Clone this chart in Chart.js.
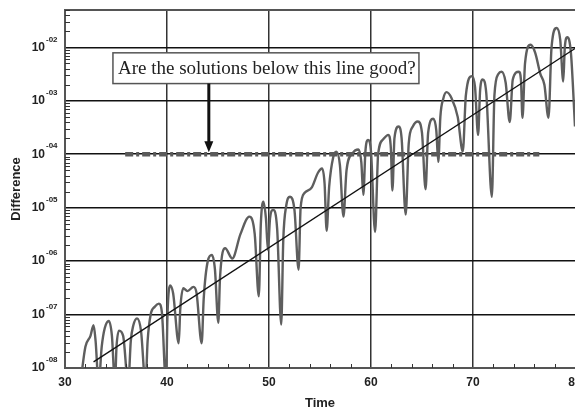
<!DOCTYPE html>
<html>
<head>
<meta charset="utf-8">
<script src="https://cdn.jsdelivr.net/npm/chart.js@4.4.1/dist/chart.umd.min.js"></script>
<style>
  html, body { margin: 0; padding: 0; background: #fff; }
</style>
</head>
<body>
<canvas id="chart" width="575" height="414"></canvas>
<script>
// difference curve
const times = [31.5, 32.0, 32.5, 32.8, 33.0, 33.3, 33.6, 33.9, 34.3, 34.6, 34.9, 35.05, 35.3, 35.7, 36.2, 36.45, 36.7, 37.06, 37.45, 37.9,
  38.1, 38.4, 38.8, 39.2, 39.5, 39.9, 40.05, 40.3, 40.6, 41.15, 41.3, 41.6, 42.0, 42.6, 42.9, 43.4, 43.6, 44.0, 44.4, 44.7,
  45.03, 45.2, 45.7, 46.4, 47.2, 48.07, 48.6, 49.0, 49.2, 49.45, 49.7, 49.9, 50.1, 50.4, 50.8, 51.2, 51.4, 51.7, 52.06, 52.5,
  52.9, 53.1, 53.5, 54.2, 54.8, 55.2, 55.45, 55.65, 55.9, 56.3, 56.6, 56.95, 57.3, 57.6, 58.2, 58.76, 59.05, 59.25, 59.45, 59.7,
  60.0, 60.4, 60.7, 61.2, 61.7, 61.95, 62.1, 62.3, 62.7, 63.0, 63.4, 63.7, 64.1, 64.6, 65.0, 65.35, 65.6, 66.1, 66.4, 66.6,
  66.8, 67.1, 67.4, 67.9, 68.5, 69.0, 69.3, 69.9, 70.2, 70.5, 70.7, 70.95, 71.3, 71.85, 72.1, 72.5, 72.8, 73.2, 73.6, 73.9,
  74.5, 74.7, 74.85, 75.1, 75.65, 76.1, 76.6, 77.0, 77.4, 77.7, 78.2, 78.55, 78.85, 79.0, 79.25, 79.6, 80.0];
const diff = [5e-9, 2.5e-8, 4e-8, 6.3e-8, 3.2e-8, 5e-9, 2.5e-8, 5.6e-8, 7.6e-8, 4e-8, 5e-9, 2.5e-8, 5e-8, 4e-8, 5e-9, 3.2e-8, 6.3e-8, 8.5e-8, 5e-8, 5e-9,
  3.2e-8, 1e-7, 1.4e-7, 1.6e-7, 1.1e-7, 5e-9, 1e-7, 3.5e-7, 2.5e-7, 2.9e-8, 1.26e-7, 3.1e-7, 2.75e-7, 3.3e-7, 2.5e-7, 2.9e-8, 2e-7, 1e-6, 1.3e-6, 7e-7,
  7e-8, 5e-7, 1.74e-6, 1.12e-6, 3.2e-6, 6.8e-6, 3.2e-6, 2.2e-7, 5e-6, 1.3e-5, 6.3e-6, 1.6e-6, 6.3e-6, 9.1e-6, 4e-6, 6.5e-8, 2.5e-6, 1.12e-5, 1.6e-5, 8.9e-6,
  6.9e-7, 1e-5, 1.9e-5, 2.4e-5, 4.5e-5, 5.4e-5, 2.8e-5, 3.7e-6, 2.5e-5, 8.9e-5, 1.12e-4, 6.3e-5, 6.8e-6, 5e-5, 1.05e-4, 1.23e-4, 7.1e-5, 1.74e-5, 1.12e-4, 1.86e-4,
  1.12e-4, 3.5e-6, 1e-4, 1.9e-4, 2.3e-4, 1.26e-4, 2.1e-5, 2e-4, 3.3e-4, 2e-4, 7.4e-6, 1.6e-4, 3.3e-4, 4.1e-4, 2.5e-4, 2.2e-5, 2.5e-4, 4.6e-4, 2.8e-4, 7.2e-5,
  5e-4, 1.12e-3, 1.45e-3, 1.12e-3, 5e-4, 1.12e-4, 1.26e-3, 2.9e-3, 1.8e-3, 2.3e-4, 1.6e-3, 2.5e-3, 1.4e-3, 1.6e-5, 1.26e-3, 3.2e-3, 3.5e-3, 2.2e-3, 4e-4, 2.5e-3,
  3.5e-3, 2.5e-3, 4.8e-4, 5e-3, 1.12e-2, 7.9e-3, 3.2e-3, 2e-3, 4.8e-4, 1e-2, 2.3e-2, 1.4e-2, 2.3e-3, 1e-2, 1.55e-2, 7.9e-3, 3.3e-4];

// straight fit line and the threshold line
const fitTimes = [32.8, 80];
const fitValues = [1.3e-8, 9.5e-3];
const limitTimes = [35.9, 76.5];
const limitValues = [1e-4, 1e-4];

// axes
const xTicks = [30, 40, 50, 60, 70, 80];
const xMinor = [32, 34, 36, 38, 42, 44, 46, 48, 52, 54, 56, 58, 62, 64, 66, 68, 72, 74, 76, 78];
const yTicks = [1e-8, 1e-7, 1e-6, 1e-5, 1e-4, 1e-3, 1e-2];
const yTickExp = ['-08', '-07', '-06', '-05', '-04', '-03', '-02'];

const note = 'Are the solutions below this line good?';
const noteBox = { t0: 34.7, t1: 64.7, v0: 7.9e-3, v1: 2.1e-3 };
const arrowAt = { t: 44.1, v: 1e-4 };

const pts = (xs, ys) => xs.map((t, i) => ({ x: t, y: ys[i] }));

const extras = {
  id: 'extras',
  afterDatasetsDraw(chart) {
    const { ctx, chartArea: a, scales: { x, y } } = chart;
    ctx.save();
    // top frame
    ctx.strokeStyle = '#555';
    ctx.lineWidth = 2;
    ctx.beginPath();
    ctx.moveTo(a.left, a.top);
    ctx.lineTo(a.right, a.top);
    ctx.stroke();

    // minor ticks
    ctx.strokeStyle = '#333';
    ctx.lineWidth = 1;
    yTicks.forEach(d => {
      for (let m = 2; m <= 9; m++) {
        const v = d * m;
        if (v > y.max) break;
        const py = Math.round(y.getPixelForValue(v)) + 0.5;
        ctx.beginPath();
        ctx.moveTo(a.left, py);
        ctx.lineTo(a.left + 5, py);
        ctx.stroke();
      }
    });
    xMinor.forEach(t => {
      const px = Math.round(x.getPixelForValue(t)) + 0.5;
      ctx.beginPath();
      ctx.moveTo(px, a.bottom);
      ctx.lineTo(px, a.bottom - 4);
      ctx.stroke();
    });

    // note box
    const bx0 = x.getPixelForValue(noteBox.t0), bx1 = x.getPixelForValue(noteBox.t1);
    const by0 = y.getPixelForValue(noteBox.v0), by1 = y.getPixelForValue(noteBox.v1);
    ctx.fillStyle = '#fff';
    ctx.fillRect(bx0, by0, bx1 - bx0, by1 - by0);
    ctx.strokeStyle = '#555';
    ctx.lineWidth = 1.5;
    ctx.strokeRect(bx0, by0, bx1 - bx0, by1 - by0);
    ctx.fillStyle = '#222';
    ctx.font = '19px "Liberation Serif"';
    ctx.textBaseline = 'middle';
    ctx.textAlign = 'left';
    ctx.fillText(note, bx0 + 5, (by0 + by1) / 2 + 1);

    // arrow
    const ax = x.getPixelForValue(arrowAt.t);
    const ay = y.getPixelForValue(arrowAt.v) - 2;
    ctx.strokeStyle = '#111';
    ctx.lineWidth = 3;
    ctx.beginPath();
    ctx.moveTo(ax, by1);
    ctx.lineTo(ax, ay - 9);
    ctx.stroke();
    ctx.fillStyle = '#111';
    ctx.beginPath();
    ctx.moveTo(ax - 4.5, ay - 11);
    ctx.lineTo(ax + 4.5, ay - 11);
    ctx.lineTo(ax, ay);
    ctx.closePath();
    ctx.fill();
    ctx.restore();
  },
  afterDraw(chart) {
    const { ctx, scales: { y } } = chart;
    ctx.save();
    ctx.fillStyle = '#222';
    ctx.textBaseline = 'middle';
    yTicks.forEach((v, i) => {
      const py = y.getPixelForValue(v);
      ctx.font = 'bold 12px "Liberation Sans"';
      ctx.textAlign = 'right';
      ctx.fillText('10', 45, py);
      ctx.font = 'bold 8px "Liberation Sans"';
      ctx.textAlign = 'left';
      ctx.fillText(yTickExp[i], 46, py - 8);
    });
    ctx.restore();
  }
};

new Chart(document.getElementById('chart'), {
  type: 'line',
  data: {
    datasets: [{
      data: pts(fitTimes, fitValues),
      borderColor: '#111',
      borderWidth: 1.3,
      pointRadius: 0,
      tension: 0
    }, {
      data: pts(limitTimes, limitValues),
      borderColor: '#5a5a5a',
      borderWidth: 4.5,
      borderDash: [8, 3, 3, 3],
      pointRadius: 0,
      tension: 0
    }, {
      data: pts(times, diff),
      borderColor: '#5e5e5e',
      borderWidth: 2.4,
      pointRadius: 0,
      cubicInterpolationMode: 'monotone'
    }]
  },
  options: {
    responsive: false,
    animation: false,
    layout: { padding: { top: 10, right: 0, left: 0, bottom: 0 } },
    plugins: { legend: { display: false }, tooltip: { enabled: false } },
    scales: {
      x: {
        type: 'linear',
        min: 30,
        max: 80,
        afterBuildTicks: s => { s.ticks = xTicks.map(v => ({ value: v })); },
        afterFit: s => { s.height = 46; s.paddingLeft = 0; s.paddingRight = 0; },
        grid: {
          drawTicks: false,
          color: c => (c.tick && (c.tick.value === 30 || c.tick.value === 80)) ? 'rgba(0,0,0,0)' : '#333',
          lineWidth: 1.5
        },
        border: { color: '#555', width: 2 },
        ticks: {
          padding: 7,
          maxRotation: 0,
          color: '#222',
          font: { family: 'Liberation Sans', size: 12, weight: 'bold' }
        },
        title: {
          display: true,
          text: 'Time',
          color: '#222',
          padding: { top: 3, bottom: 3 },
          font: { family: 'Liberation Sans', size: 13, weight: 'bold' }
        }
      },
      y: {
        type: 'logarithmic',
        min: 1e-8,
        max: 0.05,
        afterBuildTicks: s => { s.ticks = yTicks.map(v => ({ value: v })); },
        afterFit: s => { s.width = 65; },
        grid: { drawTicks: false, color: '#111', lineWidth: 1.5 },
        border: { color: '#555', width: 2 },
        ticks: { display: false },
        title: {
          display: true,
          text: 'Difference',
          color: '#222',
          padding: { top: 9, bottom: 9 },
          font: { family: 'Liberation Sans', size: 13, weight: 'bold' }
        }
      }
    }
  },
  plugins: [extras]
});
</script>
</body>
</html>
